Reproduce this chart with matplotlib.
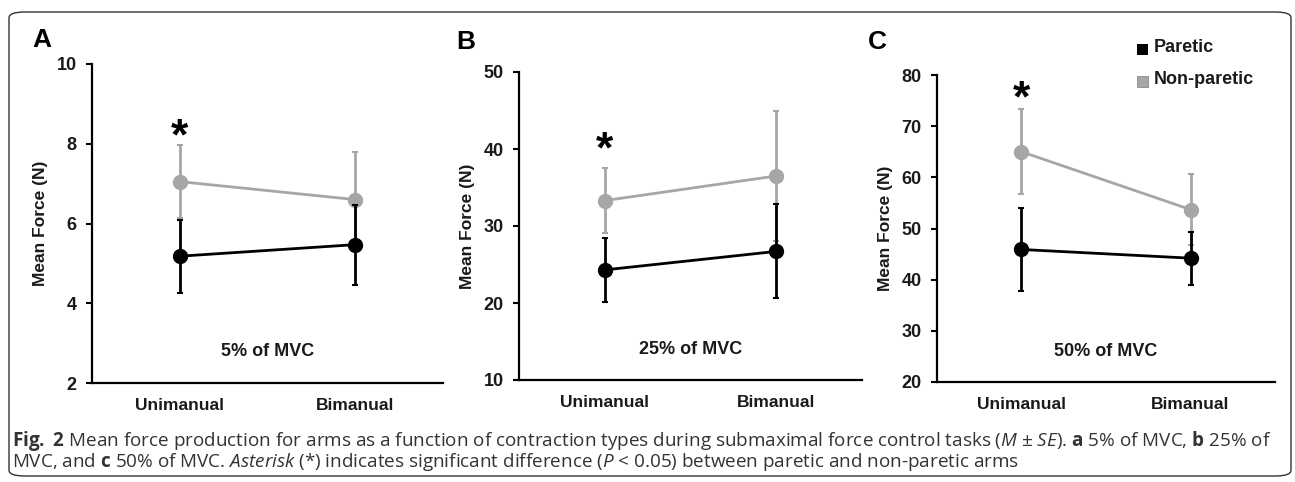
import numpy as np
import matplotlib.pyplot as plt
from matplotlib.patches import FancyBboxPatch

plt.rcParams['font.family'] = ['Liberation Sans', 'DejaVu Sans']
plt.rcParams['mathtext.fontset'] = 'custom'
plt.rcParams['mathtext.rm'] = 'Open Sans'
plt.rcParams['mathtext.it'] = 'Open Sans:italic'
plt.rcParams['mathtext.bf'] = 'Open Sans:bold'

# datos (M ± SE)
conditions = ['Unimanual', 'Bimanual']
panels = ['A', 'B', 'C']
mvc_labels = ['5% of MVC', '25% of MVC', '50% of MVC']

paretic_mean = [[5.18, 5.47], [24.3, 26.7], [45.9, 44.2]]
paretic_se = [[0.92, 1.0], [4.2, 6.1], [8.1, 5.2]]
nonparetic_mean = [[7.05, 6.6], [33.3, 36.5], [65.0, 53.7]]
nonparetic_se = [[0.92, 1.2], [4.2, 8.5], [8.3, 7.0]]

y_limits = [(2, 10), (10, 50), (20, 80)]
y_ticks = [[2, 4, 6, 8, 10], [10, 20, 30, 40, 50], [20, 30, 40, 50, 60, 70, 80]]
star_y = [8.15, 39.8, 75.2]

W, H = 1295, 482
fig = plt.figure(figsize=(W / 100, H / 100), dpi=100)

# caja redondeada alrededor de todo
caja = FancyBboxPatch((9 / W, 6 / H), 1282 / W, 464 / H,
                      boxstyle='round,pad=0,rounding_size=0.012',
                      transform=fig.transFigure, fill=False,
                      edgecolor='#333333', linewidth=1.0)
fig.patches.append(caja)

# posiciones en pixeles: (izq, der, abajo, arriba)
boxes = [(92, 443, 383, 64), (519, 862, 380, 72), (937, 1275, 382, 75)]
letter_pos = [(32, 40), (456, 42), (868, 42)]

gris = '#a6a6a6'
texto = '#1a1a1a'
x = np.arange(len(conditions))

for i in range(3):
    l, r, b, t = boxes[i]
    ax = fig.add_axes([l / W, (H - b) / H, (r - l) / W, (b - t) / H])

    ax.errorbar(x, nonparetic_mean[i], yerr=nonparetic_se[i], color=gris,
                marker='o', markersize=10, linewidth=2, elinewidth=2,
                capsize=2, capthick=1.5, zorder=2)
    ax.errorbar(x, paretic_mean[i], yerr=paretic_se[i], color='black',
                marker='o', markersize=10, linewidth=2, elinewidth=2,
                capsize=2, capthick=1.5, zorder=3)

    ax.set_xlim(-0.5, 1.5)
    ax.set_ylim(*y_limits[i])
    ax.set_yticks(y_ticks[i])
    ax.set_xticks(x)
    ax.set_xticklabels(conditions, fontsize=12.5, fontweight='bold', color=texto)
    ax.tick_params(axis='x', length=0, pad=11)
    ax.tick_params(axis='y', direction='out', length=4, width=1.5,
                   labelsize=13, pad=7)
    for lab in ax.get_yticklabels():
        lab.set_fontweight('bold')
        lab.set_color(texto)
    ax.spines['top'].set_visible(False)
    ax.spines['right'].set_visible(False)
    ax.spines['left'].set_linewidth(1.6)
    ax.spines['bottom'].set_linewidth(1.6)
    ax.set_ylabel('Mean Force (N)', fontsize=12.5, fontweight='bold',
                  labelpad=6, color=texto)
    ax.patch.set_alpha(0)

    ax.text(0, star_y[i], '*', ha='center', va='center', fontsize=32,
            fontweight='bold')
    ax.text(0.5, 0.1, mvc_labels[i], transform=ax.transAxes, ha='center',
            va='center', fontsize=13, fontweight='bold', color=texto)

    fig.text(letter_pos[i][0] / W, 1 - letter_pos[i][1] / H, panels[i],
             fontsize=19, fontweight='bold', ha='left', va='center')

# leyenda del panel C
fig.patches.append(plt.Rectangle((1137 / W, 1 - 55 / H), 11 / W, 11 / H,
                                 transform=fig.transFigure, facecolor='black'))
fig.patches.append(plt.Rectangle((1137 / W, 1 - 87 / H), 11 / W, 11 / H,
                                 transform=fig.transFigure, facecolor=gris,
                                 edgecolor='#888888', linewidth=0.6))
fig.text(1154 / W, 1 - 48 / H, 'Paretic', fontsize=13, fontweight='bold',
         va='center', color=texto)
fig.text(1154 / W, 1 - 80 / H, 'Non-paretic', fontsize=13, fontweight='bold',
         va='center', color=texto)

# pie de figura
fam = ['Open Sans', 'DejaVu Sans']
linea1 = (r'$\mathbf{Fig.\ 2}$ Mean force production for arms as a function of contraction '
          r'types during submaximal force control tasks ($M$ ± $SE$). $\mathbf{a}$ 5% of MVC, $\mathbf{b}$ 25% of')
linea2 = (r'MVC, and $\mathbf{c}$ 50% of MVC. $Asterisk$ (*) indicates significant difference '
          r'($P$ < 0.05) between paretic and non-paretic arms')
fig.text(12 / W, 1 - 441 / H, linea1, fontsize=13.6, family=fam, va='center', color='#333333')
fig.text(12 / W, 1 - 462 / H, linea2, fontsize=13.6, family=fam, va='center', color='#333333')

fig.savefig('out.png', dpi=100)
